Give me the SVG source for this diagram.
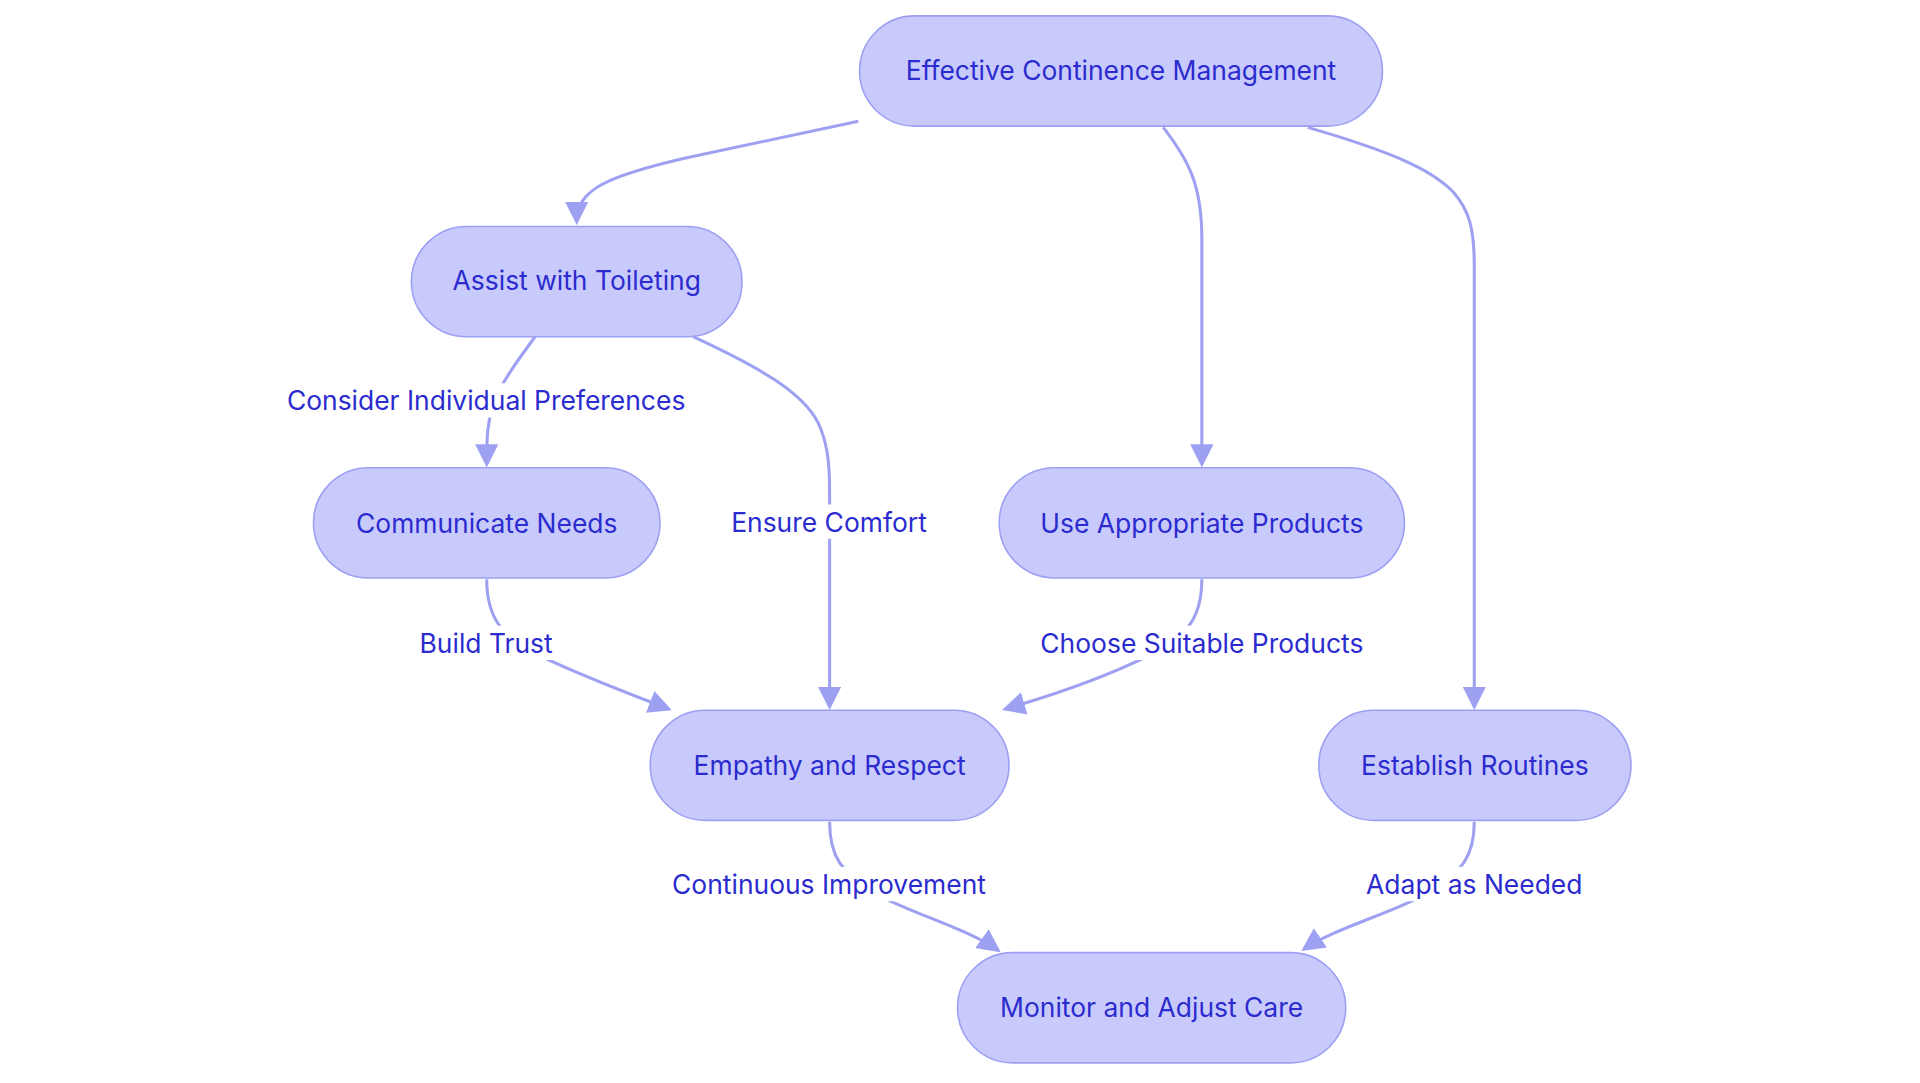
<svg xmlns="http://www.w3.org/2000/svg" width="1920" height="1083" viewBox="0 0 1920 1083">
<style>
.node rect{fill:#c8cafc;stroke:#9da0f2;stroke-width:1.3}
.node text,.lbl text{font-family:Inter,"Noto Sans","Liberation Sans",sans-serif;font-size:21.6px;fill:#2b2bcf;text-anchor:middle;dominant-baseline:central}
.edge{fill:none;stroke:#9ea1f2;stroke-width:2.5}
.lbl rect{fill:#ffffff}
</style>
<defs>
<marker id="arr" markerUnits="userSpaceOnUse" viewBox="0 0 20 20" markerWidth="19" markerHeight="19" refX="17" refY="10" orient="auto">
<path d="M0,0 L20,10 L0,20 z" fill="#9ea1f2"/>
</marker>
</defs>
<rect width="1920" height="1083" fill="#ffffff"/>
<g transform="scale(1.2244898)">
<g id="connectors">
<path class="edge" marker-end="url(#arr)" d="M701,99 L560,129 C495,144 471,155 471,181"/>
<path class="edge" marker-end="url(#arr)" d="M950,104 C970,130 981.5,150 981.5,195 L981.5,379"/>
<path class="edge" marker-end="url(#arr)" d="M1068,104 C1130,122 1168,137 1187,157 C1200,172 1204,187 1204,217 L1204,577"/>
<path class="edge" marker-end="url(#arr)" d="M437,275 C420,298 408,315 403,330 C398,345 397.5,355 397.5,379"/>
<path class="edge" marker-end="url(#arr)" d="M566,275 C620,300 655,320 668,345 C675,360 677.5,375 677.5,400 L677.5,577"/>
<path class="edge" marker-end="url(#arr)" d="M397.5,473 C397.5,505 410,520 440,535 C470,550 510,565 546,579"/>
<path class="edge" marker-end="url(#arr)" d="M981.5,473 C981.5,505 969,520 939,535 C909,550 869,565 821,579"/>
<path class="edge" marker-end="url(#arr)" d="M677.5,671 C677.5,700 688,712 710,727 C735,743 790,758 815,776"/>
<path class="edge" marker-end="url(#arr)" d="M1204,671 C1204,700 1193,712 1170,727 C1145,743 1090,758 1065,775"/>
</g>
<g id="edge-labels">
<g class="lbl"><rect x="235" y="313" width="324" height="28"/><text x="397" y="327">Consider Individual Preferences</text></g>
<g class="lbl"><rect x="596" y="412" width="162" height="28"/><text x="677" y="426">Ensure Comfort</text></g>
<g class="lbl"><rect x="343" y="511" width="108" height="28"/><text x="397" y="525">Build Trust</text></g>
<g class="lbl"><rect x="847" y="511" width="269" height="28"/><text x="981.5" y="525">Choose Suitable Products</text></g>
<g class="lbl"><rect x="546" y="708" width="262" height="28"/><text x="677" y="722">Continuous Improvement</text></g>
<g class="lbl"><rect x="1115" y="708" width="178" height="28"/><text x="1204" y="722">Adapt as Needed</text></g>
</g>
<g id="node-ecm" class="node"><rect x="702" y="13" width="427" height="90" rx="45" ry="45"/><text x="915.5" y="57">Effective Continence Management</text></g>
<g id="node-assist" class="node"><rect x="336" y="185" width="270" height="90" rx="45" ry="45"/><text x="471" y="229">Assist with Toileting</text></g>
<g id="node-communicate" class="node"><rect x="256" y="382" width="283" height="90" rx="45" ry="45"/><text x="397.5" y="427">Communicate Needs</text></g>
<g id="node-products" class="node"><rect x="816" y="382" width="331" height="90" rx="45" ry="45"/><text x="981.5" y="427">Use Appropriate Products</text></g>
<g id="node-empathy" class="node"><rect x="531" y="580" width="293" height="90" rx="45" ry="45"/><text x="677.5" y="625">Empathy and Respect</text></g>
<g id="node-routines" class="node"><rect x="1077" y="580" width="255" height="90" rx="45" ry="45"/><text x="1204.5" y="625">Establish Routines</text></g>
<g id="node-monitor" class="node"><rect x="782" y="778" width="317" height="90" rx="45" ry="45"/><text x="940.5" y="822">Monitor and Adjust Care</text></g>
</g>
</svg>
